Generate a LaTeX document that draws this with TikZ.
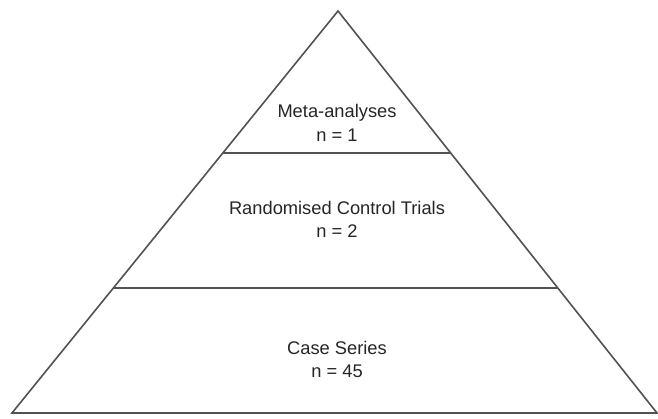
\documentclass[tikz,border=0pt]{standalone}
\usepackage{fontspec}
\setmainfont{Liberation Sans}
\usetikzlibrary{calc}
\begin{document}
\begin{tikzpicture}[x=1pt,y=1pt,
  edge/.style={draw=black!68,line width=1.6pt,line join=miter},
  lbl/.style={anchor=base,inner sep=0pt,text=black!85,font=\fontsize{18.3}{22}\selectfont}]
\useasboundingbox[fill=white] (0,0) rectangle (658,418);
\coordinate (A) at (338,407);
\coordinate (L) at (12,5);
\coordinate (R) at (657,5);
\coordinate (L1) at ($(L)!0.647!(A)$);
\coordinate (R1) at ($(R)!0.647!(A)$);
\coordinate (L2) at ($(L)!0.311!(A)$);
\coordinate (R2) at ($(R)!0.311!(A)$);
\draw[edge] (L) -- (A) -- (R) -- cycle;
\draw[edge] (L1) -- (R1);
\draw[edge] (L2) -- (R2);
\node[lbl] (m1) at (337,300) {Meta-analyses};
\node[lbl] (m2) at (337,276) {n = 1};
\node[lbl] (r1) at (337,203) {Randomised Control Trials};
\node[lbl] (r2) at (337,181) {n = 2};
\node[lbl] (c1) at (337,64) {Case Series};
\node[lbl] (c2) at (337,41) {n = 45};
\end{tikzpicture}
\end{document}
